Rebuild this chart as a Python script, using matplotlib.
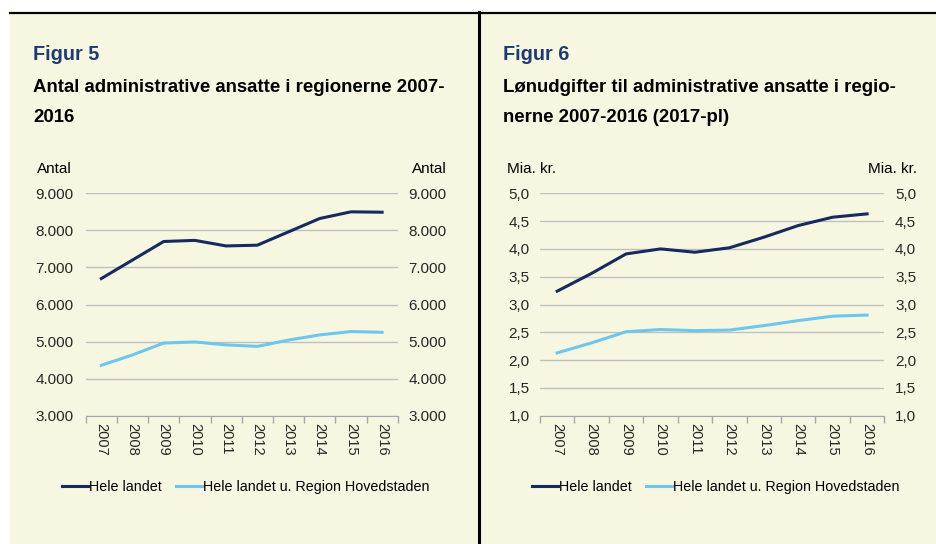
#!/usr/bin/env python3
# -*- coding: utf-8 -*-
import matplotlib
matplotlib.use("Agg")
import matplotlib.pyplot as plt
import matplotlib.transforms as mtrans
from matplotlib.lines import Line2D

# data
years = ["2007", "2008", "2009", "2010", "2011", "2012", "2013", "2014", "2015", "2016"]
antal_hele = [6700, 7200, 7700, 7730, 7580, 7600, 7960, 8320, 8500, 8490]
antal_uhov = [4360, 4640, 4960, 4990, 4910, 4870, 5040, 5180, 5270, 5250]
loen_hele = [3.24, 3.56, 3.91, 4.00, 3.94, 4.02, 4.21, 4.42, 4.57, 4.63]
loen_uhov = [2.13, 2.31, 2.51, 2.55, 2.53, 2.54, 2.62, 2.71, 2.79, 2.81]
antal_ticks = [3000, 4000, 5000, 6000, 7000, 8000, 9000]
antal_labels = ["3.000", "4.000", "5.000", "6.000", "7.000", "8.000", "9.000"]
loen_ticks = [1.0, 1.5, 2.0, 2.5, 3.0, 3.5, 4.0, 4.5, 5.0]
loen_labels = ["1,0", "1,5", "2,0", "2,5", "3,0", "3,5", "4,0", "4,5", "5,0"]
series_names = ["Hele landet", "Hele landet u. Region Hovedstaden"]

BG = "#F7F7E1"
NAVY = "#172A60"
LIGHT = "#6EC6EE"
GRID = "#BFBFBF"
TITLE_BLUE = "#1F3A70"

plt.rcParams["font.family"] = ["Liberation Sans", "DejaVu Sans"]

W, H = 937, 544
fig = plt.figure(figsize=(W / 100, H / 100), dpi=100)
fig.patch.set_facecolor("white")


def px(x, y):
    return x / W, 1 - y / H


# cream background, top rule and divider
fig.patches.append(plt.Rectangle(px(10, H), (W - 10) / W, (H - 13) / H,
                                 transform=fig.transFigure, color=BG, zorder=-10))
fig.lines.append(Line2D([10 / W, 1], [1 - 13 / H] * 2, transform=fig.transFigure,
                        color="black", lw=1.6))
fig.lines.append(Line2D([478.5 / W] * 2, [0, 1 - 12 / H], transform=fig.transFigure,
                        color="black", lw=2.2))


def panel(x0, x1, fignum, title_lines, unit, hele, uhov, ticks, labels, lpad, rpad,
          tx, unit_l, unit_r, leg_x):
    fig.text(*px(tx, 55), fignum, fontsize=14.3, fontweight="bold",
             color=TITLE_BLUE, va="center", ha="left")
    for i, line in enumerate(title_lines):
        fig.text(*px(tx, 88 + 30 * i), line, fontsize=13.4, fontweight="bold",
                 color="black", va="center", ha="left")
    fig.text(*px(unit_l, 169), unit, fontsize=11, va="center", ha="left")
    fig.text(*px(unit_r, 169), unit, fontsize=11, va="center", ha="right")

    left, top = px(x0, 193.3)
    _, bottom = px(x0, 415.7)
    ax = fig.add_axes([left, bottom, (x1 - x0) / W, top - bottom])
    ax.set_facecolor("none")
    xs = [i + 0.5 for i in range(len(years))]
    ax.plot(xs, uhov, color=LIGHT, lw=2.2, zorder=3)
    ax.plot(xs, hele, color=NAVY, lw=2.2, zorder=3)
    ax.set_xlim(0, len(years))
    ax.set_ylim(ticks[0], ticks[-1])

    ax.set_yticks(ticks)
    ax.set_yticklabels(labels)
    ax.tick_params(axis="y", left=False, right=False, labelleft=True,
                   labelright=True, labelsize=11, colors="#262626", pad=lpad)
    ax.grid(axis="y", color=GRID, lw=1)
    ax.set_axisbelow(True)

    ax.set_xticks(xs)
    ax.set_xticklabels(years, rotation=270, fontsize=10.5, color="#262626")
    ax.set_xticks(range(len(years) + 1), minor=True)
    ax.tick_params(axis="x", which="major", length=0, pad=5)
    ax.tick_params(axis="x", which="minor", length=5, color="#A6A6A6", width=1)

    for s in ["top", "left", "right"]:
        ax.spines[s].set_visible(False)
    ax.spines["bottom"].set_color("#A6A6A6")

    # right-hand labels get their own gap
    off = mtrans.ScaledTranslation((rpad - lpad) / 72, 0, fig.dpi_scale_trans)
    for t in ax.yaxis.get_major_ticks():
        t.label2.set_transform(t.label2.get_transform() + off)

    handles = [Line2D([], [], color=NAVY, lw=2.2), Line2D([], [], color=LIGHT, lw=2.2)]
    fig.legend(handles, series_names, loc="center", bbox_to_anchor=px(leg_x, 487),
               ncol=2, frameon=False, fontsize=10.3, handlelength=1.8,
               handletextpad=0.1, columnspacing=1.0)
    return ax


panel(85.7, 397.7, "Figur 5",
      ["Antal administrative ansatte i regionerne 2007-", "2016"],
      "Antal", antal_hele, antal_uhov, antal_ticks, antal_labels, 5.2, 4.4,
      33, 37, 447, 246)
panel(540, 884.3, "Figur 6",
      ["Lønudgifter til administrative ansatte i regio-", "nerne 2007-2016 (2017-pl)"],
      "Mia. kr.", loen_hele, loen_uhov, loen_ticks, loen_labels, 3.9, 4.2,
      503, 507, 917, 716)

fig.savefig("out.png", dpi=100, facecolor=fig.get_facecolor())
